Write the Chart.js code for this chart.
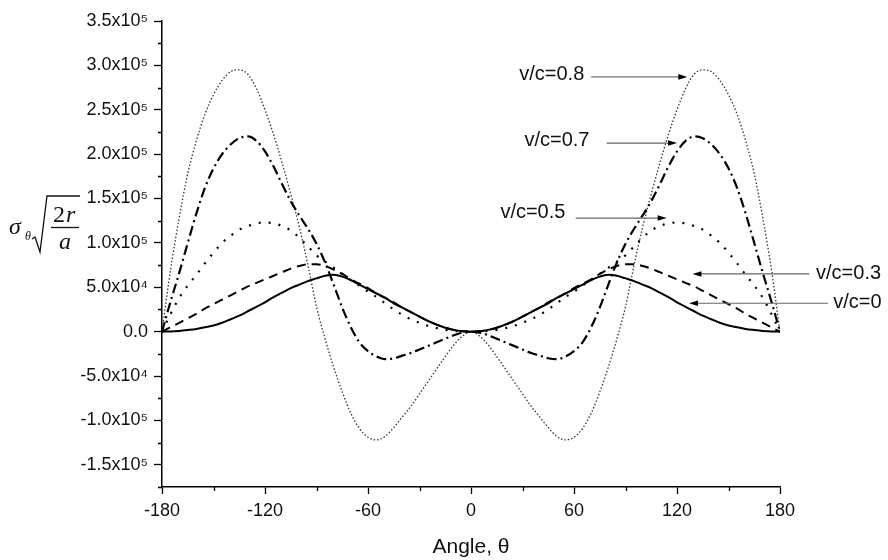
<!DOCTYPE html>
<html>
<head>
<meta charset="UTF-8">
<title>Stress vs angle</title>
<script src="https://cdn.jsdelivr.net/npm/chart.js"></script>
<style>
  body { margin: 0; background: #fff; }
  #wrap { width: 888px; height: 560px; }
</style>
</head>
<body>
<div id="wrap"><canvas id="stressChart"></canvas></div>
<script>
// angle, degrees
const theta = [
  -180, -175, -170, -165, -160, -155, -150, -145, -140, -135, -130, -125, -120, -115, -110, -105, -100, -95, -90,
  -85, -80, -75, -70, -65, -60, -55, -50, -45, -40, -35, -30, -25, -20, -15, -10, -5, 0,
  5, 10, 15, 20, 25, 30, 35, 40, 45, 50, 55, 60, 65, 70, 75, 80, 85,
  90, 95, 100, 105, 110, 115, 120, 125, 130, 135, 140, 145, 150, 155, 160, 165, 170, 175, 180
];

// v/c = 0 (solid)
const vc0 = [
  0, 200, 800, 1800, 3000, 5000, 7000, 10000, 14000, 18000, 23000, 28000, 33000, 39000, 44000, 49000, 53000, 57000, 60000,
  63000, 64000, 62000, 58000, 53000, 48000, 43000, 38000, 32000, 27000, 22000, 17000, 12000, 8000, 4500, 2000, 500, 0,
  500, 2000, 4500, 8000, 12000, 17000, 22000, 27000, 32000, 38000, 43000, 48000, 53000, 58000, 62000, 64000, 63000,
  60000, 57000, 53000, 49000, 44000, 39000, 33000, 28000, 23000, 18000, 14000, 10000, 7000, 5000, 3000, 1800, 800, 200, 0
];

// v/c = 0.3 (dashed)
const vc03 = [
  0, 5000, 10000, 15000, 20000, 26000, 31000, 36000, 41000, 46000, 51000, 55000, 59000, 63000, 67000, 71000, 74000, 76000, 76000,
  74000, 70000, 65000, 59000, 54000, 49000, 43000, 38000, 33000, 27000, 22000, 17000, 12000, 8000, 4500, 2000, 500, 0,
  500, 2000, 4500, 8000, 12000, 17000, 22000, 27000, 33000, 38000, 43000, 49000, 54000, 59000, 65000, 70000, 74000,
  76000, 76000, 74000, 71000, 67000, 63000, 59000, 55000, 51000, 46000, 41000, 36000, 31000, 26000, 20000, 15000, 10000, 5000, 0
];

// v/c = 0.5 (sparse dots)
const vc05 = [
  0, 20000, 38000, 52000, 64000, 77000, 89000, 100000, 108000, 115000, 119000, 122000, 123000, 122000, 119000, 114000, 106000, 96000, 86000,
  79000, 72000, 65000, 58000, 52000, 45000, 39000, 32000, 25000, 19000, 14000, 10000, 6500, 4000, 2000, 900, 200, 0,
  200, 900, 2000, 4000, 6500, 10000, 14000, 19000, 25000, 32000, 39000, 45000, 52000, 58000, 65000, 72000, 79000,
  86000, 96000, 106000, 114000, 119000, 122000, 123000, 122000, 119000, 115000, 108000, 100000, 89000, 77000, 64000, 52000, 38000, 20000, 0
];

// v/c = 0.7 (dash-dot)
const vc07 = [
  0, 34000, 66000, 100000, 133000, 162000, 184000, 200000, 211000, 218000, 220000, 215000, 203000, 186000, 166000, 147000, 131000, 116000, 99000,
  78000, 53000, 27000, 5000, -12000, -22000, -28000, -31000, -30000, -27000, -24000, -20000, -16000, -12000, -8000, -4000, -1000, 0,
  -1000, -4000, -8000, -12000, -16000, -20000, -24000, -27000, -30000, -31000, -28000, -22000, -12000, 5000, 27000, 53000, 78000,
  99000, 116000, 131000, 147000, 166000, 186000, 203000, 215000, 220000, 218000, 211000, 200000, 184000, 162000, 133000, 100000, 66000, 34000, 0
];

// v/c = 0.8 (fine dots)
const vc08 = [
  0, 70000, 128000, 178000, 215000, 245000, 267000, 283000, 293000, 295000, 290000, 274000, 250000, 222000, 190000, 155000, 118000, 75000, 28000,
  -8000, -40000, -68000, -92000, -109000, -119000, -122000, -118000, -108000, -96000, -84000, -70000, -56000, -42000, -28000, -15000, -5000, 0,
  -5000, -15000, -28000, -42000, -56000, -70000, -84000, -96000, -108000, -118000, -122000, -119000, -109000, -92000, -68000, -40000, -8000,
  28000, 75000, 118000, 155000, 190000, 222000, 250000, 274000, 290000, 295000, 293000, 283000, 267000, 245000, 215000, 178000, 128000, 70000, 0
];

const seriesNames = ['v/c=0', 'v/c=0.3', 'v/c=0.5', 'v/c=0.7', 'v/c=0.8'];

// labelled tick values
const xTicks = [-180, -120, -60, 0, 60, 120, 180];
const yTicks = [-150000, -100000, -50000, 0, 50000, 100000, 150000, 200000, 250000, 300000, 350000];

// callouts, in data units (angle, stress)
const notes = [
  { text: 'v/c=0.8', textX: 66,  textY: 290000, tailX: 70,  tipX: 126, y: 287000 },
  { text: 'v/c=0.7', textX: 69,  textY: 215000, tailX: 79,  tipX: 120, y: 212500 },
  { text: 'v/c=0.5', textX: 55,  textY: 134000, tailX: 61,  tipX: 114, y: 128000 },
  { text: 'v/c=0.3', textX: 201, textY: 66000,  tailX: 197, tipX: 129, y: 65000 },
  { text: 'v/c=0',   textX: 211, textY: 33000,  tailX: 208, tipX: 127, y: 32000 }
];

const sup = { 4: '\u2074', 5: '\u2075' };
function sciLabel(v) {
  if (v === 0) return '0.0';
  const e = Math.floor(Math.log10(Math.abs(v)));
  return (v / Math.pow(10, e)).toFixed(1) + 'x10' + sup[e];
}

function pts(ys) {
  return theta.map((t, i) => ({ x: t, y: ys[i] }));
}

const minorTicks = {
  id: 'minorTicks',
  afterDraw(chart) {
    const { ctx, scales: { x, y } } = chart;
    ctx.save();
    ctx.strokeStyle = '#000';
    ctx.lineWidth = 1.3;
    ctx.beginPath();
    for (let v = x.min + 30; v < x.max; v += 60) {
      const px = Math.round(x.getPixelForValue(v)) + 0.5;
      ctx.moveTo(px, y.bottom);
      ctx.lineTo(px, y.bottom + 4);
    }
    for (let v = y.min; v < y.max; v += 50000) {
      const py = Math.round(y.getPixelForValue(v)) + 0.5;
      ctx.moveTo(x.left - 4, py);
      ctx.lineTo(x.left, py);
    }
    ctx.stroke();
    ctx.restore();
  }
};

const yTitle = {
  id: 'yTitle',
  afterDraw(chart) {
    const ctx = chart.ctx;
    ctx.save();
    ctx.fillStyle = '#111';
    ctx.strokeStyle = '#111';
    ctx.textBaseline = 'alphabetic';
    ctx.textAlign = 'left';
    ctx.font = 'italic 24px "Liberation Serif", serif';
    ctx.fillText('\u03c3', 9, 234);
    ctx.font = 'italic 12px "Liberation Serif", serif';
    ctx.fillText('\u03b8', 25, 240);
    ctx.lineWidth = 1.3;
    ctx.beginPath();
    ctx.moveTo(32, 239);
    ctx.lineTo(35, 237);
    ctx.lineTo(40, 252);
    ctx.lineTo(47, 196);
    ctx.lineTo(80, 196);
    ctx.stroke();
    ctx.beginPath();
    ctx.moveTo(51, 227.5);
    ctx.lineTo(79, 227.5);
    ctx.stroke();
    ctx.font = '24px "Liberation Serif", serif';
    ctx.fillText('2', 53, 222);
    ctx.font = 'italic 24px "Liberation Serif", serif';
    ctx.fillText('r', 66, 222);
    ctx.fillText('a', 59, 249);
    ctx.restore();
  }
};

const callouts = {
  id: 'callouts',
  afterDraw(chart) {
    const { ctx, scales: { x, y } } = chart;
    ctx.save();
    notes.forEach((n, i) => {
      const yy = y.getPixelForValue(n.y);
      const tail = x.getPixelForValue(n.tailX);
      const tip = x.getPixelForValue(n.tipX);
      const dir = tip > tail ? 1 : -1;
      ctx.strokeStyle = i === 0 ? '#999' : '#666';
      ctx.lineWidth = i === 0 ? 1.8 : 1.2;
      ctx.beginPath();
      ctx.moveTo(tail, yy);
      ctx.lineTo(tip - dir * 8, yy);
      ctx.stroke();
      ctx.fillStyle = '#000';
      ctx.beginPath();
      ctx.moveTo(tip, yy);
      ctx.lineTo(tip - dir * 9, yy - 2.8);
      ctx.lineTo(tip - dir * 9, yy + 2.8);
      ctx.closePath();
      ctx.fill();
      ctx.font = '20px "Liberation Sans", Arial, sans-serif';
      ctx.fillStyle = '#111';
      ctx.textBaseline = 'middle';
      ctx.textAlign = dir > 0 ? 'right' : 'left';
      ctx.fillText(n.text, x.getPixelForValue(n.textX), y.getPixelForValue(n.textY));
    });
    ctx.restore();
  }
};

Chart.defaults.font.family = '"Liberation Sans", Arial, sans-serif';

new Chart(document.getElementById('stressChart'), {
  type: 'line',
  data: {
    datasets: [
      { label: seriesNames[0], data: pts(vc0), borderColor: '#000', borderWidth: 2 },
      { label: seriesNames[1], data: pts(vc03), borderColor: '#000', borderWidth: 2, borderDash: [9, 6] },
      { label: seriesNames[2], data: pts(vc05), borderColor: '#000', borderWidth: 2.2, borderDash: [2, 8] },
      { label: seriesNames[3], data: pts(vc07), borderColor: '#000', borderWidth: 2.2, borderDash: [10, 4, 2, 4] },
      { label: seriesNames[4], data: pts(vc08), borderColor: '#333', borderWidth: 1.3, borderDash: [1.5, 2] }
    ]
  },
  options: {
    responsive: true,
    maintainAspectRatio: false,
    animation: false,
    layout: { padding: { left: 0, right: 108, top: 21, bottom: 0 } },
    elements: {
      point: { radius: 0 },
      line: { cubicInterpolationMode: 'monotone', fill: false }
    },
    plugins: {
      legend: { display: false },
      tooltip: { enabled: false }
    },
    scales: {
      x: {
        type: 'linear',
        min: -180,
        max: 180,
        afterBuildTicks(s) { s.ticks = xTicks.map(v => ({ value: v })); },
        ticks: { color: '#111', font: { size: 18 }, padding: 6, maxRotation: 0 },
        grid: { drawOnChartArea: false, tickLength: 7, tickColor: '#000', tickWidth: 1.3 },
        border: { color: '#000', width: 1.5 },
        title: { display: true, text: 'Angle, \u03b8', color: '#111', font: { size: 21 }, padding: { top: 0, bottom: 0 } },
        afterFit(s) { s.height = 73; }
      },
      y: {
        min: -175000,
        max: 350000,
        afterBuildTicks(s) { s.ticks = yTicks.map(v => ({ value: v })); },
        ticks: { color: '#111', font: { size: 18 }, padding: 6, callback: v => sciLabel(v) },
        grid: { drawOnChartArea: false, tickLength: 8, tickColor: '#000', tickWidth: 1.3 },
        border: { color: '#000', width: 1.5 },
        afterFit(s) { s.width = 162; }
      }
    }
  },
  plugins: [minorTicks, yTitle, callouts]
});
</script>
</body>
</html>
